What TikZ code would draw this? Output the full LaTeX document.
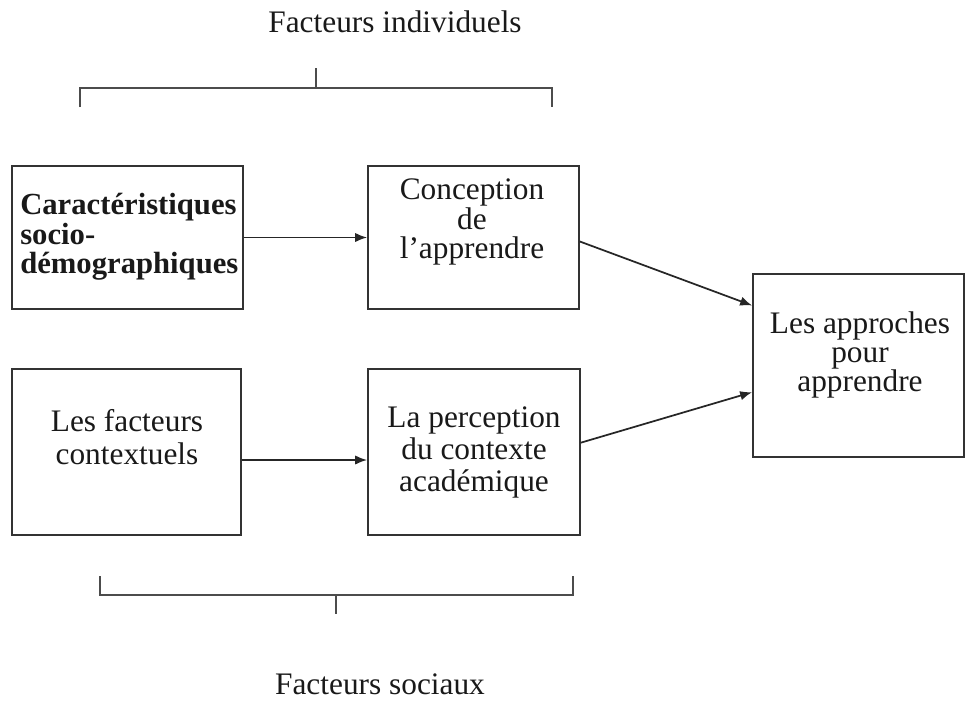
\documentclass[tikz,border=0pt]{standalone}
\usepackage{fontspec}
\setmainfont{Liberation Serif}
\usetikzlibrary{arrows.meta}
\tikzset{
  box/.style={draw=black!80,line width=1.3pt,minimum height=107.25pt},
  txt/.style={font=\fontsize{23.5}{23}\selectfont,align=center,inner sep=0pt,text=black!90},
  brace/.style={draw=black!70,line width=1.2pt}
}
\begin{document}
\begin{tikzpicture}[>={Latex[length=9pt,width=7pt]},x=0.75pt,y=-0.75pt]
\useasboundingbox (0,0) rectangle (967,701);
% boites
\node[box,minimum width=173.25pt] (carac) at (127.5,237.5) {};
\node[box,minimum width=158.25pt] (concep) at (473.5,237.5) {};
\node[box,minimum width=171.75pt,minimum height=124.5pt] (contx) at (126.5,452) {};
\node[box,minimum width=159pt,minimum height=124.5pt] (percep) at (474,452) {};
\node[box,minimum width=158.25pt,minimum height=137.25pt] (appro) at (858.5,365.5) {};
% textes
\node[txt,align=left,anchor=west,font=\fontsize{23}{22}\selectfont\bfseries] (tcarac) at (20,237) {Caractéristiques\\socio-\\démographiques};
\node[txt,font=\fontsize{23.5}{22}\selectfont] (tconcep) at (472,222) {Conception\\de\\l’apprendre};
\node[txt,font=\fontsize{23.5}{24.5}\selectfont] (tcontx) at (127,437) {Les facteurs\\contextuels};
\node[txt,font=\fontsize{23.5}{24}\selectfont] (tpercep) at (474,452) {La perception\\du contexte\\académique};
\node[txt,font=\fontsize{23.5}{22}\selectfont] (tappro) at (860,355) {Les approches\\pour\\apprendre};
\node[txt] (indiv) at (395,22) {Facteurs individuels};
\node[txt] (soc) at (380,684) {Facteurs sociaux};
% fleches
\draw[->,line width=1.3pt,black!85] (carac.east) -- (concep.west);
\draw[->,line width=1.3pt,black!85] ([yshift=-6pt]contx.east) -- ([yshift=-6pt]percep.west);
\draw[->,line width=1.3pt,black!85] ([yshift=-3pt]concep.east) -- ([yshift=45pt]appro.west);
\draw[->,line width=1.3pt,black!85] ([yshift=7pt]percep.east) -- ([yshift=-20pt]appro.west);
% accolades
\draw[brace] (80,107) -- (80,88) -- (552,88) -- (552,107);
\draw[brace] (316,68) -- (316,88);
\draw[brace] (100,576) -- (100,595) -- (573,595) -- (573,576);
\draw[brace] (336,595) -- (336,614);
\end{tikzpicture}
\end{document}
